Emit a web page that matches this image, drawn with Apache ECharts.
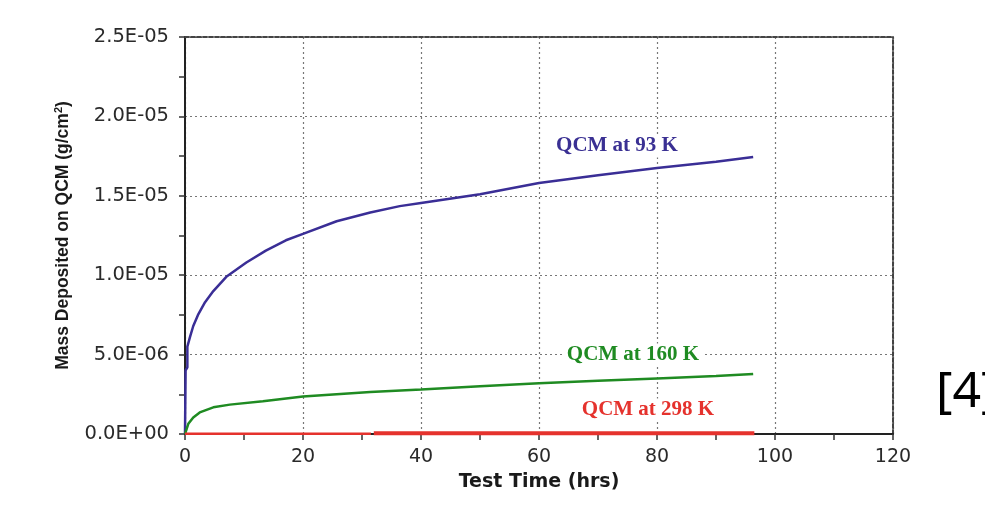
<!DOCTYPE html>
<html>
<head>
<meta charset="utf-8">
<script src="https://cdn.jsdelivr.net/npm/echarts@6/dist/echarts.min.js"></script>
<style>
html,body{margin:0;padding:0;background:#fff;}
#chart{width:985px;height:508px;}
</style>
</head>
<body>
<div id="chart"></div>
<script>
// ---- data ----
const hours93 = [0, 0.1, 0.4, 0.4, 0.84, 1.4, 2.2, 3.4, 4.8, 7.0, 10.4, 13.7, 17.1, 20, 25.7, 31.4, 36.4, 40, 50, 60, 70, 80, 90, 96.3];
const mass93  = [0, 0.40e-5, 0.42e-5, 0.55e-5, 0.61e-5, 0.68e-5, 0.75e-5, 0.83e-5, 0.90e-5, 0.99e-5, 1.08e-5, 1.155e-5, 1.22e-5, 1.26e-5, 1.34e-5, 1.395e-5, 1.435e-5, 1.455e-5, 1.51e-5, 1.58e-5, 1.63e-5, 1.675e-5, 1.715e-5, 1.745e-5];

const hours160 = [0, 0.56, 1.4, 2.5, 4.8, 7.6, 13.2, 20, 31.4, 40, 50, 60, 70, 80, 90, 96.3];
const mass160  = [0, 0.064e-5, 0.104e-5, 0.136e-5, 0.168e-5, 0.185e-5, 0.206e-5, 0.236e-5, 0.265e-5, 0.28e-5, 0.30e-5, 0.32e-5, 0.335e-5, 0.35e-5, 0.365e-5, 0.378e-5];

const hours298a = [0, 31.5];
const mass298a  = [0.002e-5, 0.002e-5];
const hours298b = [32, 96.5];
const mass298b  = [0.004e-5, 0.004e-5];

const seriesNames = ['QCM at 93 K', 'QCM at 160 K', 'QCM at 298 K'];
const xTitle = 'Test Time (hrs)';
const yTitle = 'Mass Deposited on QCM (g/cm{sup|2})';
const refText = '[4]';

const pairs = (xs, ys) => xs.map((x, i) => [x, ys[i]]);

function expFmt(v) {
  const s = Number(v).toExponential(1);
  const [m, e] = s.split('e');
  const sign = e[0];
  const d = e.slice(1).padStart(2, '0');
  return (m + 'E' + sign + d).toUpperCase();
}

const chart = echarts.init(document.getElementById('chart'), null, {renderer: 'canvas'});

const blue = '#3a2e96', green = '#1f8b22', red = '#e5322d';

chart.setOption({
  animation: false,
  backgroundColor: '#fff',
  grid: {left: 185, right: 92, top: 37, bottom: 74, containLabel: false},
  xAxis: [{
    type: 'value', min: 0, max: 120, interval: 20,
    name: xTitle, nameLocation: 'middle', nameGap: 39,
    nameTextStyle: {fontFamily: 'DejaVu Sans', fontWeight: 'bold', fontSize: 19, color: '#1a1a1a'},
    axisLine: {show: true, onZero: false, lineStyle: {color: '#222', width: 2}},
    axisTick: {show: true, inside: false, length: 6, lineStyle: {color: '#333', width: 1.5}},
    minorTick: {show: true, splitNumber: 2, length: 6, lineStyle: {color: '#333', width: 1.5}},
    axisLabel: {margin: 14, fontFamily: 'DejaVu Sans', fontSize: 19, color: '#2a2a2a'},
    splitLine: {show: true, lineStyle: {color: '#777', type: [2, 3], width: 1.2}},
    minorSplitLine: {show: false}
  }, {
    type: 'value', min: 0, max: 120, position: 'top',
    axisLine: {show: true, onZero: false, lineStyle: {color: '#444', type: [4, 2], width: 2}},
    axisTick: {show: false}, axisLabel: {show: false}, splitLine: {show: false}
  }],
  yAxis: [{
    type: 'value', min: 0, max: 2.5e-5, interval: 5e-6,
    name: yTitle, nameLocation: 'middle', nameGap: 112, nameRotate: 90,
    nameTextStyle: {
      fontFamily: 'Liberation Sans', fontWeight: 'bold', fontSize: 17.5, color: '#1a1a1a',
      rich: {sup: {fontFamily: 'Liberation Sans', fontWeight: 'bold', fontSize: 11, verticalAlign: 'top', padding: [0, 0, 9, 0], color: '#1a1a1a'}}
    },
    axisLine: {show: true, onZero: false, lineStyle: {color: '#222', width: 2}},
    axisTick: {show: true, inside: false, length: 6, lineStyle: {color: '#333', width: 1.5}},
    minorTick: {show: true, splitNumber: 2, length: 6, lineStyle: {color: '#333', width: 1.5}},
    axisLabel: {margin: 16, fontFamily: 'DejaVu Sans', fontSize: 19.5, color: '#2a2a2a', formatter: expFmt},
    splitLine: {show: true, lineStyle: {color: '#777', type: [2, 3], width: 1.2}}
  }, {
    type: 'value', min: 0, max: 2.5e-5, position: 'right',
    axisLine: {show: true, onZero: false, lineStyle: {color: '#444', type: [4, 2], width: 2}},
    axisTick: {show: false}, axisLabel: {show: false}, splitLine: {show: false}
  }],
  series: [{
    name: seriesNames[0], type: 'line', data: pairs(hours93, mass93), showSymbol: false,
    lineStyle: {color: blue, width: 2.5}, z: 5
  }, {
    name: seriesNames[1], type: 'line', data: pairs(hours160, mass160), showSymbol: false,
    lineStyle: {color: green, width: 2.5}, z: 5
  }, {
    name: seriesNames[2], type: 'line', data: pairs(hours298a, mass298a), showSymbol: false,
    lineStyle: {color: red, width: 2.5}, z: 6
  }, {
    name: seriesNames[2], type: 'line', data: pairs(hours298b, mass298b), showSymbol: false,
    lineStyle: {color: red, width: 4}, z: 6
  }],
  graphic: [{
    type: 'text', x: 617, y: 146, z: 10,
    style: {text: seriesNames[0], align: 'center', verticalAlign: 'middle', fill: '#3a3093',
      font: 'bold 21px "Liberation Serif", serif', backgroundColor: '#fff', padding: [1, 3]}
  }, {
    type: 'text', x: 633, y: 355, z: 10,
    style: {text: seriesNames[1], align: 'center', verticalAlign: 'middle', fill: '#1f8b22',
      font: 'bold 21px "Liberation Serif", serif', backgroundColor: '#fff', padding: [1, 3]}
  }, {
    type: 'text', x: 648, y: 410, z: 10,
    style: {text: seriesNames[2], align: 'center', verticalAlign: 'middle', fill: '#e5322d',
      font: 'bold 21px "Liberation Serif", serif', backgroundColor: '#fff', padding: [1, 3]}
  }, {
    type: 'text', x: 936, y: 393, z: 10,
    style: {text: refText, align: 'left', verticalAlign: 'middle', fill: '#000',
      font: '50px "Noto Sans", sans-serif'}
  }]
});
</script>
</body>
</html>
